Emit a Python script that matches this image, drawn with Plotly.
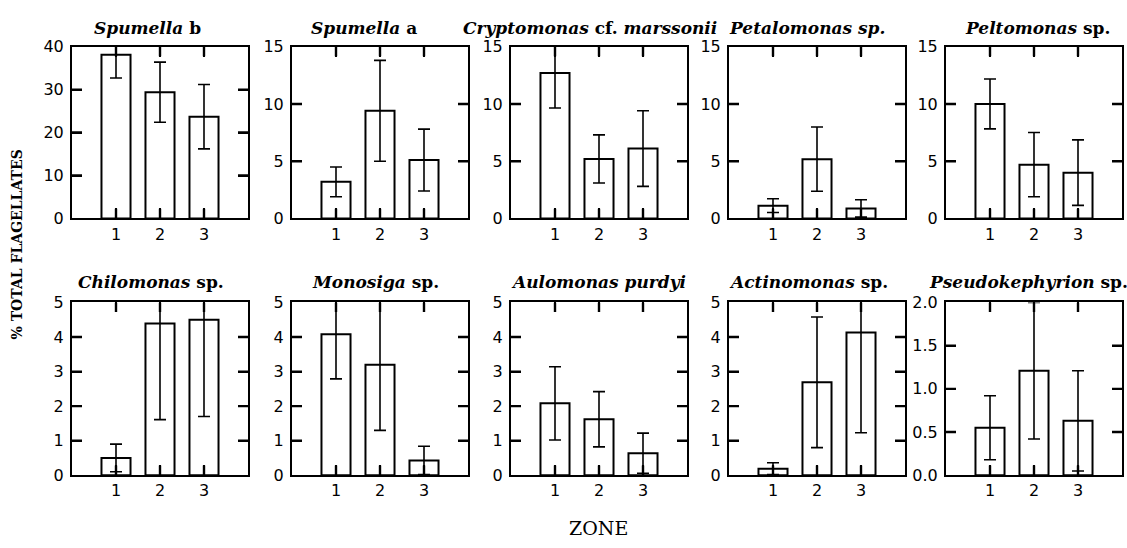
import plotly.graph_objects as go

# ---------------- data ----------------
zones = [1, 2, 3]
zone_ticks = ["1", "2", "3"]

species_titles = [
    "<b><i>Spumella</i> b</b>",
    "<b><i>Spumella</i> a</b>",
    "<b><i>Cryptomonas</i> cf. <i>marssonii</i></b>",
    "<b><i>Petalomonas sp.</i></b>",
    "<b><i>Peltomonas</i> sp.</b>",
    "<b><i>Chilomonas</i> sp.</b>",
    "<b><i>Monosiga</i> sp.</b>",
    "<b><i>Aulomonas purdyi</i></b>",
    "<b><i>Actinomonas</i> sp.</b>",
    "<b><i>Pseudokephyrion</i> sp.</b>",
]

spumella_b_mean = [38.1, 29.4, 23.7]
spumella_b_err = [5.4, 7.0, 7.5]
spumella_a_mean = [3.2, 9.4, 5.1]
spumella_a_err = [1.3, 4.4, 2.7]
cryptomonas_mean = [12.7, 5.2, 6.1]
cryptomonas_err = [3.05, 2.1, 3.3]
petalomonas_mean = [1.12, 5.18, 0.88]
petalomonas_err = [0.6, 2.8, 0.76]
peltomonas_mean = [10.0, 4.7, 4.0]
peltomonas_err = [2.18, 2.8, 2.86]
chilomonas_mean = [0.5, 4.39, 4.5]
chilomonas_err = [0.4, 2.78, 2.8]
monosiga_mean = [4.08, 3.2, 0.43]
monosiga_err = [1.29, 1.9, 0.41]
aulomonas_mean = [2.08, 1.62, 0.64]
aulomonas_err = [1.06, 0.8, 0.58]
actinomonas_mean = [0.19, 2.69, 4.13]
actinomonas_err = [0.17, 1.89, 2.9]
pseudokephyrion_mean = [0.55, 1.21, 0.63]
pseudokephyrion_err = [0.37, 0.79, 0.58]

y_max = [40, 15, 15, 15, 15, 5, 5, 5, 5, 2]
y_dtick = [10, 5, 5, 5, 5, 1, 1, 1, 1, 0.5]

means = [spumella_b_mean, spumella_a_mean, cryptomonas_mean, petalomonas_mean,
         peltomonas_mean, chilomonas_mean, monosiga_mean, aulomonas_mean,
         actinomonas_mean, pseudokephyrion_mean]
errs = [spumella_b_err, spumella_a_err, cryptomonas_err, petalomonas_err,
        peltomonas_err, chilomonas_err, monosiga_err, aulomonas_err,
        actinomonas_err, pseudokephyrion_err]

# ---------------- layout geometry (pixels) ----------------
W, H = 1127, 548
lefts = [72, 292, 511, 729, 946]
pw = 176
rows = [(39, 217), (304, 483)]
title_x_top = [147, 364, 590, 807, 1037]
title_x_bot = [151, 375, 598, 808, 1028]
title_y = [20, 283]
TICK_PX = 10
X_RANGE = [0, 4]

fig = go.Figure()
layout = dict(
    width=W, height=H,
    margin=dict(l=0, r=0, t=0, b=0),
    paper_bgcolor="white", plot_bgcolor="rgba(0,0,0,0)",
    showlegend=False,
    font=dict(family="DejaVu Sans", color="black"),
)

annotations = []
for i in range(10):
    r, c = divmod(i, 5)
    n = i + 1
    xa = "x" if n == 1 else f"x{n}"
    ya = "y" if n == 1 else f"y{n}"
    fig.add_trace(go.Bar(
        x=zones, y=means[i],
        xaxis=xa, yaxis=ya,
        width=0.66,
        marker=dict(color="white", line=dict(color="black", width=2)),
        error_y=dict(type="data", array=errs[i], visible=True,
                     color="black", thickness=1.6, width=6),
        hoverinfo="skip",
    ))
    top, bot = rows[r]
    ph = bot - top
    # inside tick marks on all four sides, sized from the axis scales
    dx = TICK_PX * (X_RANGE[1] - X_RANGE[0]) / pw
    dy = TICK_PX * y_max[i] / ph
    tx_, ty_ = [], []
    for z in zones:
        tx_ += [z, z, None, z, z, None]
        ty_ += [0, dy, None, y_max[i] - dy, y_max[i], None]
    k = 1
    while k * y_dtick[i] < y_max[i] - 1e-9:
        v = k * y_dtick[i]
        tx_ += [X_RANGE[0], X_RANGE[0] + dx, None, X_RANGE[1] - dx, X_RANGE[1], None]
        ty_ += [v, v, None, v, v, None]
        k += 1
    fig.add_trace(go.Scatter(
        x=tx_, y=ty_, xaxis=xa, yaxis=ya, mode="lines",
        line=dict(color="black", width=2.4), hoverinfo="skip",
        connectgaps=False, cliponaxis=False,
    ))

    x0 = lefts[c] / W
    x1 = (lefts[c] + pw) / W
    y0 = 1 - bot / H
    y1 = 1 - top / H
    xkey = "xaxis" if n == 1 else f"xaxis{n}"
    ykey = "yaxis" if n == 1 else f"yaxis{n}"
    common = dict(
        ticks="inside", mirror="ticks", ticklen=TICK_PX, tickwidth=2,
        tickcolor="black",
        showline=True, linecolor="black", linewidth=2,
        showgrid=False, zeroline=False, layer="above traces",
        tickfont=dict(family="DejaVu Sans", size=16, color="black"),
    )
    layout[xkey] = dict(
        domain=[x0, x1], anchor=ya, range=X_RANGE,
        tickmode="array", tickvals=zones, ticktext=zone_ticks,
        **common,
    )
    layout[ykey] = dict(
        domain=[y0, y1], anchor=xa, range=[0, y_max[i]],
        dtick=y_dtick[i], tick0=0,
        tickformat=".1f" if y_max[i] == 2 else "d",
        ticklabelstandoff=3,
        **common,
    )
    tx = (title_x_top if r == 0 else title_x_bot)[c]
    annotations.append(dict(
        text=species_titles[i], xref="paper", yref="paper",
        x=tx / W, y=1 - title_y[r] / H, xanchor="center", yanchor="middle",
        showarrow=False,
        font=dict(family="DejaVu Serif", size=17, color="black"),
    ))

annotations.append(dict(
    text="ZONE", xref="paper", yref="paper", x=598 / W, y=1 - 538 / H,
    xanchor="center", yanchor="middle", showarrow=False,
    font=dict(family="DejaVu Serif", size=19, color="black"),
))
annotations.append(dict(
    text="<b>% TOTAL FLAGELLATES</b>", xref="paper", yref="paper", x=17 / W, y=1 - 244 / H,
    xanchor="center", yanchor="middle", showarrow=False, textangle=-90,
    font=dict(family="DejaVu Serif", size=14, color="black"),
))
layout["annotations"] = annotations

fig.update_layout(**layout)
fig.write_html("out.html", config={"displayModeBar": False},
               post_script="document.body.style.margin='0px';")
